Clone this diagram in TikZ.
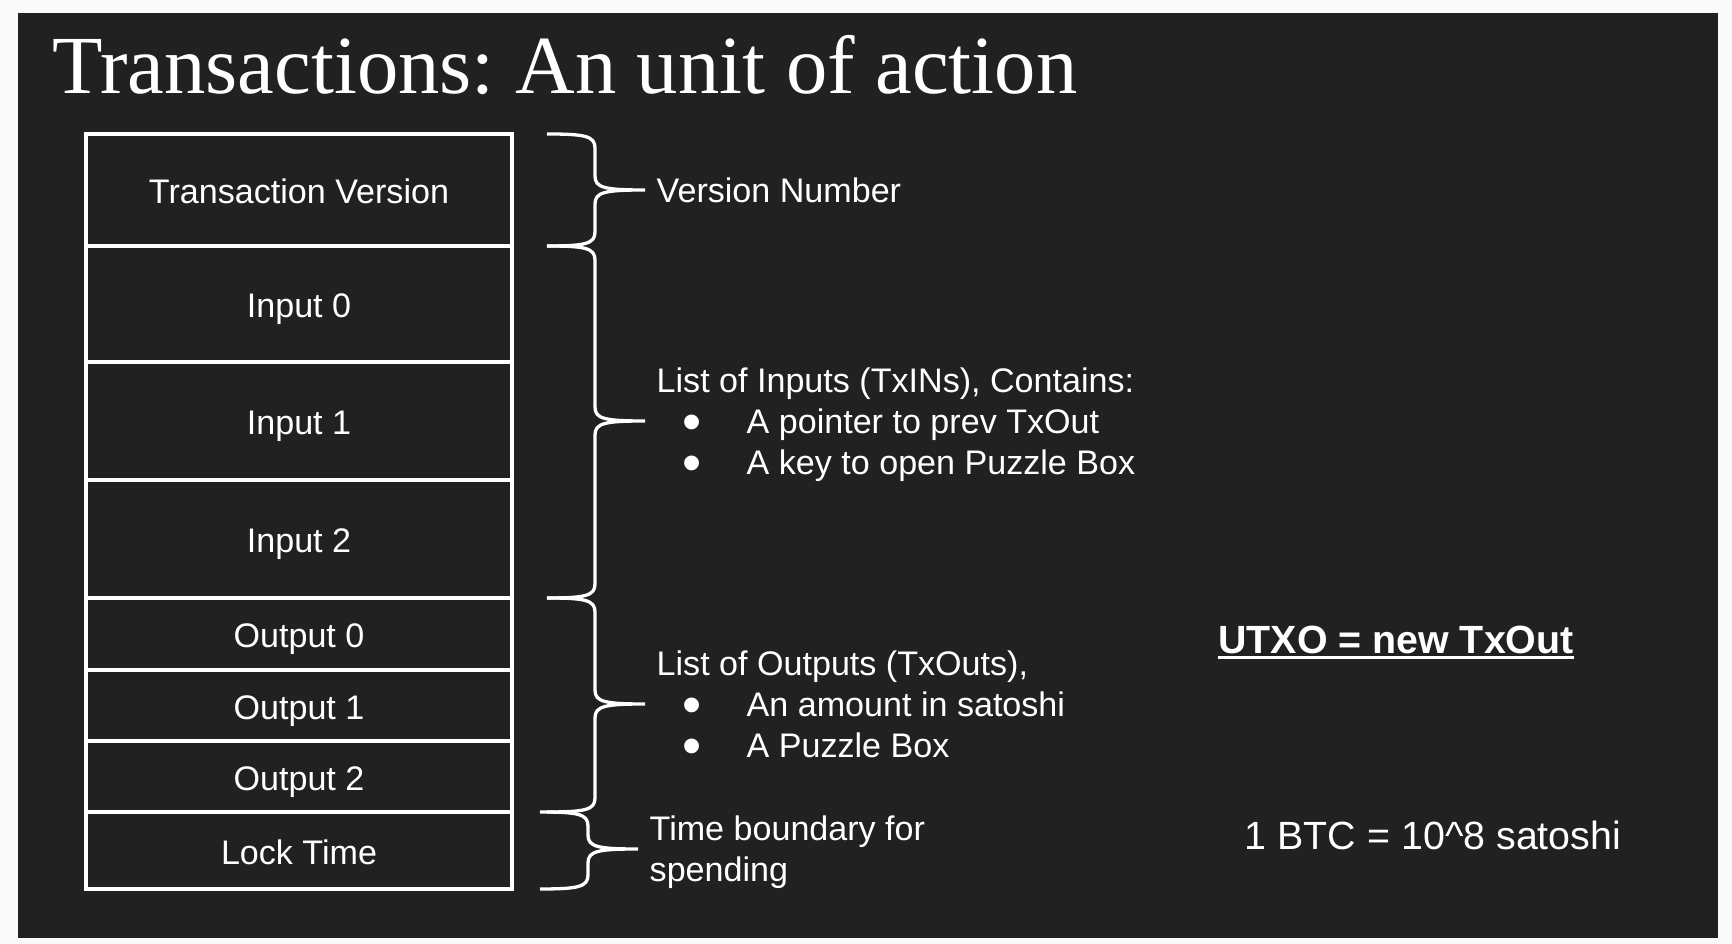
\documentclass[tikz,border=0pt]{standalone}
\usepackage{fontspec}
\setmainfont{Liberation Sans}
\newfontfamily\titlefont{Liberation Serif}
\usepackage{graphicx}
\usepackage{tikz}
\usetikzlibrary{calc, positioning}
\usepackage{xcolor}
\definecolor{slidebg}{HTML}{212121}
\definecolor{pagebg}{HTML}{FAFAFA}
\frenchspacing

% bullet with its indent, and a thick underline
\newcommand{\bul}{\makebox[9mm][l]{\hspace*{2.55mm}\smash{\raisebox{-0.21em}{\scalebox{1.6}{\textbullet}}}}}
\newcommand{\thickul}[1]{\setbox0\hbox{#1}\rlap{\rule[-0.55mm]{\wd0}{0.3mm}}\box0}

% curly brace: top end, bottom end, tip
\newcommand{\fieldbrace}[3]{%
  \draw[brace line] let \p1=(#1), \p2=(#2), \p3=(#3) in
    (\x1,\y1) .. controls (\x1+3.8mm,\y1) and (\x1+4.8mm,\y1-0.2mm) .. (\x1+4.8mm,\y1-1.4mm)
    -- (\x1+4.8mm,\y3+1.4mm) .. controls (\x1+4.8mm,\y3+0.2mm) and (\x1+5.8mm,\y3) .. (\x3,\y3)
    (\x2,\y2) .. controls (\x2+3.8mm,\y2) and (\x2+4.8mm,\y2+0.2mm) .. (\x2+4.8mm,\y2+1.4mm)
    -- (\x2+4.8mm,\y3-1.4mm) .. controls (\x2+4.8mm,\y3-0.2mm) and (\x2+5.8mm,\y3) .. (\x3,\y3);
}

\begin{document}
\begin{tikzpicture}[x=0.1mm, y=-0.1mm,
        % Define styles for the fields, the labels and the braces
        field/.style={draw=white, line width=0.33mm, minimum width=42.6mm, outer sep=0pt,
            inner sep=0pt, text=white, text height=3.4mm, text depth=0.6mm,
            font=\fontsize{9.7}{11.7}\selectfont},
        note/.style={anchor=west, inner xsep=1.1mm, inner ysep=0pt, text depth=0pt,
            text=white, align=left, font=\fontsize{9.7}{11.7}\selectfont},
        bigtext/.style={anchor=base, inner sep=0pt, text=white, font=\fontsize{11.2}{13.4}\selectfont},
        brace line/.style={draw=white, line width=0.33mm}]

        % 1. Page and the dark slide
        \fill[pagebg] (0,0) rectangle (1732,944);
        \useasboundingbox (0,0) rectangle (1732,944);
        \fill[slidebg] (18,13) rectangle (1718,938);

        % 2. Title
        \node[anchor=base west, inner sep=0pt, text=white,
            font=\titlefont\fontsize{23.5}{28}\selectfont] (title) at (52,94) {Transactions: An unit of action};

        % 3. The fields, top to bottom
        \node[field, minimum height=11.2mm, anchor=north] (ver) at (299,134) {Transaction Version};
        \node[field, minimum height=11.6mm, below=0pt of ver] (in0) {Input 0};
        \node[field, minimum height=11.8mm, below=0pt of in0] (in1) {Input 1};
        \node[field, minimum height=11.8mm, below=0pt of in1] (in2) {Input 2};
        \node[field, minimum height=7.2mm, below=0pt of in2] (out0) {Output 0};
        \node[field, minimum height=7.1mm, below=0pt of out0] (out1) {Output 1};
        \node[field, minimum height=7.1mm, below=0pt of out1] (out2) {Output 2};
        \node[field, minimum height=7.7mm, below=0pt of out2] (lock) {Lock Time};

        % 4. Labels right of the braces
        \node[note] (vnum) at (645,190) {Version Number};
        \node[note] (ins) at (645,421) {List of Inputs (TxINs), Contains:\\
            \bul A pointer to prev TxOut\\ \bul A key to open Puzzle Box};
        \node[note] (outs) at (645,704) {List of Outputs (TxOuts),\\
            \bul An amount in satoshi\\ \bul A Puzzle Box};
        \node[note] (lockt) at (638,849) {Time boundary for\\ spending};

        % 5. Braces from the fields to their labels
        \fieldbrace{$(ver.north east)+(35,0)$}{$(ver.south east)+(35,0)$}{vnum.west}
        \fieldbrace{$(in0.north east)+(35,0)$}{$(in2.south east)+(35,0)$}{ins.west}
        \fieldbrace{$(out0.north east)+(35,0)$}{$(out2.south east)+(35,0)$}{outs.west}
        \fieldbrace{$(lock.north east)+(28,0)$}{$(lock.south east)+(28,0)$}{lockt.west}

        % 6. Side notes
        \node[bigtext, font=\bfseries\fontsize{11.2}{13.4}\selectfont] (utxo) at (1396,654) {\thickul{UTXO = new TxOut}};
        \node[bigtext] (btc) at (1433,850) {1 BTC = 10\textasciicircum 8 satoshi};

\end{tikzpicture}
\end{document}
